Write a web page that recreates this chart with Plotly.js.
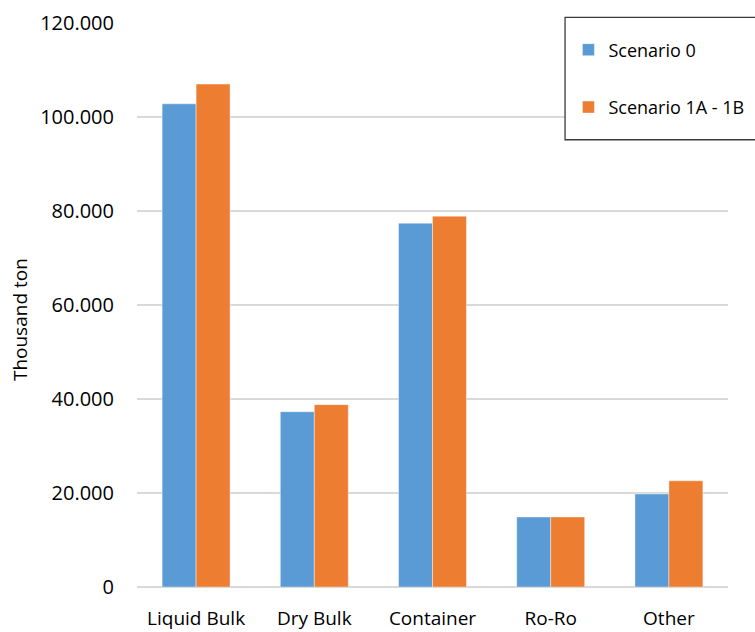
<!DOCTYPE html>
<html>
<head>
<meta charset="utf-8">
<script src="https://cdn.plot.ly/plotly-3.0.1.min.js"></script>
<style>html,body{margin:0;padding:0;background:#fff;}#chart{width:755px;height:632px;}</style>
</head>
<body>
<div id="chart"></div>
<script>
var categories = ["Liquid Bulk", "Dry Bulk", "Container", "Ro-Ro", "Other"];
var scenario0 = [102800, 37300, 77400, 14900, 19800];
var scenario1 = [107000, 38800, 78900, 14900, 22600];
var seriesNames = ["Scenario 0", "Scenario 1A - 1B"];
var yTickVals = [0, 20000, 40000, 60000, 80000, 100000, 120000];
var yTitle = "Thousand ton";

var FONT = "Open Sans, Liberation Sans, sans-serif";

var traces = [
  {type: "bar", name: seriesNames[0], x: categories, y: scenario0,
   marker: {color: "#5B9BD5", line: {color: "rgba(255,255,255,0.6)", width: 0.7}},
   legendgroup: "a"},
  {type: "bar", name: seriesNames[1], x: categories, y: scenario1,
   marker: {color: "#ED7D31", line: {color: "rgba(255,255,255,0.6)", width: 0.7}},
   legendgroup: "b"}
];

var layout = {
  width: 755, height: 632,
  margin: {l: 137, r: 27, t: 23, b: 45, autoexpand: false},
  paper_bgcolor: "#fff", plot_bgcolor: "#fff",
  separators: ",.",
  font: {family: FONT, size: 19, color: "#000"},
  barmode: "group",
  bargap: 0.425,
  bargroupgap: 0,
  showlegend: true,
  legend: {
    x: 0.73, xanchor: "left", y: 0.985, yanchor: "top",
    bgcolor: "rgba(0,0,0,0)", borderwidth: 0,
    traceorder: "grouped", tracegroupgap: 31,
    font: {family: FONT, size: 18, color: "#000"}
  },
  shapes: [
    {type: "rect", xref: "paper", yref: "paper", x0: 0.7243, x1: 1.1, y0: 0.793, y1: 1.01,
     line: {color: "#3a3a3a", width: 1.3}, fillcolor: "#fff", layer: "above"}
  ],
  annotations: [
    {text: yTitle, xref: "paper", yref: "paper", x: -0.198, y: 0.475,
     xanchor: "center", yanchor: "middle", textangle: -90, showarrow: false,
     font: {family: FONT, size: 19, color: "#000"}}
  ],
  xaxis: {
    automargin: false,
    showgrid: false, showline: false, zeroline: false,
    ticks: "", ticklabelstandoff: 18,
    tickfont: {family: FONT, size: 19, color: "#000"}
  },
  yaxis: {
    automargin: false,
    range: [0, 120000],
    tickvals: yTickVals, tickformat: ",d",
    showgrid: true, gridcolor: "#d9d9d9", gridwidth: 1.2,
    zeroline: true, zerolinecolor: "#d9d9d9", zerolinewidth: 1.5,
    showline: false, ticks: "", ticklabelstandoff: 22,
    tickfont: {family: FONT, size: 20, color: "#000"}
  }
};

Plotly.newPlot("chart", traces, layout, {displayModeBar: false, staticPlot: true});
</script>
</body>
</html>
